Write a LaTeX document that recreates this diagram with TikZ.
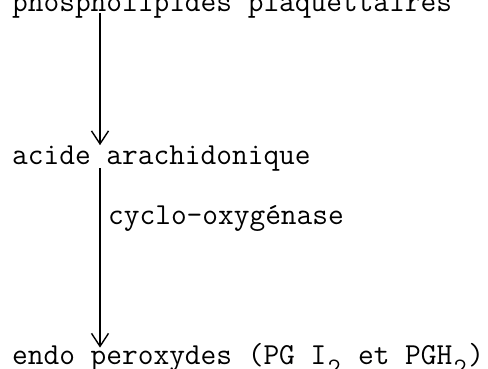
\documentclass[tikz,border=0pt]{standalone}
\usetikzlibrary{arrows.meta}
\newcommand\subtwo{\raisebox{-11pt}{\makebox[0.525em][c]{\fontsize{25}{25}\selectfont 2}}}
\begin{document}
\begin{tikzpicture}[x=1pt,y=1pt,
  txt/.style={inner sep=0pt, anchor=base west, font=\fontsize{30.5}{36}\selectfont\ttfamily},
  arr/.style={line width=1.4pt, -{Straight Barb[length=13pt,width=17pt,line width=1.4pt]}}]
\useasboundingbox (0,0) rectangle (488,369);
\node[txt] (p) at (12,357) {phospholipides plaquettaires};
\node[txt] (a) at (12,204) {acide arachidonique};
\node[txt] (c) at (108,144) {cyclo-oxygénase};
\node[txt] (e) at (12,4) {endo peroxydes (PG I\subtwo{} et PGH\subtwo)};
\coordinate (ax) at (100,0);
\draw[arr] ([yshift=-1pt]p.base -| ax) -- ([yshift=1pt]a.north -| ax);
\draw[arr] ([yshift=-3pt]a.base -| ax) -- ([yshift=-4pt]e.north -| ax);
\end{tikzpicture}
\end{document}
